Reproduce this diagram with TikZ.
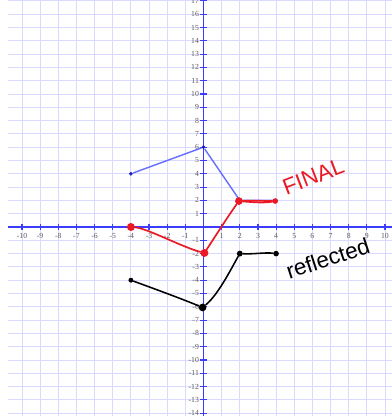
\documentclass[tikz,border=0pt]{standalone}
\usepackage{fontspec}
\setmainfont{Liberation Serif}
\newfontfamily\handfont{Liberation Sans}
\usepackage{tikz}
\definecolor{gridblue}{RGB}{218,218,255}
\definecolor{axisblue}{RGB}{60,60,255}
\definecolor{origblue}{RGB}{100,110,255}
\definecolor{dotblue}{RGB}{30,30,190}
\definecolor{penred}{RGB}{235,25,35}
\newcommand{\ticklabelfont}{\linespread{1}\fontsize{5.5}{6}\selectfont}
\newcommand{\handbigfont}{\handfont\fontsize{16}{18}\selectfont}
\tikzset{
    graph/plane/.style={x=0.45375cm, y=0.3325cm},
    graph/grid/.style={draw=gridblue, line width=0.6pt},
    graph/axis/.style={draw=axisblue, line width=1.3pt},
    graph/tick/.style={draw=axisblue, line width=0.8pt},
    graph/ticklabel/.style={font=\ticklabelfont, text=black!65, inner sep=0.5pt},
    graph/dot/.style={circle, inner sep=0pt, minimum size=#1},
    graph/original/.style={draw=origblue, line width=1pt},
    graph/final/.style={draw=penred, line width=1.2pt, line cap=round, line join=round},
    graph/reflected/.style={draw=black, line width=1.1pt, line cap=round, line join=round},
    graph/note/.style={font=\handbigfont, inner sep=0pt}
}
\begin{document}
\begin{tikzpicture}[graph/plane]
    \useasboundingbox (-11.212,-14.211) rectangle (10.386,17.068);
    % grid
    \foreach \gx in {-10,...,10}
        \draw[graph/grid] (\gx,-14.3) -- (\gx,17.1);
    \foreach \gy in {-14,...,17}
        \draw[graph/grid] (-10.75,\gy) -- (10.4,\gy);
    % axes
    \draw[graph/axis] (-10.75,0) -- (10.4,0);
    \draw[graph/axis] (0,-14.3) -- (0,17.1);
    \foreach \gx in {-10,...,-1,1,2,...,10} {
        \draw[graph/tick] (\gx,0) ++(0,-2.2pt) -- ++(0,4.4pt);
        \node[graph/ticklabel] (xlabel\gx) at (\gx,-0.68) {\gx};
    }
    \foreach \gy in {-14,...,-1,1,2,...,17} {
        \draw[graph/tick] (0,\gy) ++(-2.2pt,0) -- ++(4.4pt,0);
        \node[graph/ticklabel, anchor=east] (ylabel\gy) at (-0.2,\gy) {\gy};
    }
    % original figure
    \node[graph/dot=2.8pt, fill=dotblue] (b1) at (-4,4) {};
    \node[graph/dot=2.8pt, fill=dotblue] (b2) at (0,6) {};
    \node[graph/dot=2.8pt, fill=dotblue] (b3) at (2,2) {};
    \node[graph/dot=2.8pt, fill=dotblue] (b4) at (4,2) {};
    \draw[graph/original] (b1) -- (b2) -- (b3) -- (b4);
    % reflected figure
    \node[graph/dot=3.5pt, fill=black] (k1) at (-4,-4) {};
    \node[graph/dot=5.5pt, fill=black] (k2) at (-0.05,-6.05) {};
    \node[graph/dot=4.2pt, fill=black] (k3) at (2,-2) {};
    \node[graph/dot=4pt, fill=black] (k4) at (4,-2) {};
    \draw[graph/reflected] (k1) .. controls (-2.6,-4.7) and (-1.2,-5.4) .. (k2);
    \draw[graph/reflected] (k2) .. controls (0.8,-5.1) and (1.5,-3.2) .. (k3);
    \draw[graph/reflected] (k3) .. controls (2.8,-2.05) and (3.4,-1.9) .. (k4);
    % final figure
    \node[graph/dot=5.7pt, fill=penred] (r1) at (-4,0) {};
    \node[graph/dot=5.7pt, fill=penred] (r2) at (0.05,-1.95) {};
    \node[graph/dot=5.5pt, fill=penred] (r3) at (1.95,1.95) {};
    \node[graph/dot=4pt, fill=penred] (r4) at (3.95,1.95) {};
    \draw[graph/final] (r1) .. controls (-3.1,-0.1) and (-1.2,-1.5) .. (r2);
    \draw[graph/final] (r2) .. controls (0.7,-0.6) and (1.3,0.7) .. (r3);
    \draw[graph/final] (r3) .. controls (2.8,1.85) and (3.4,1.8) .. (r4);
    \draw[graph/final] (r3) .. controls (2.8,2.0) and (3.4,1.95) .. (r4);
    % handwritten notes
    \node[graph/note, text=penred, rotate=21] (finalnote) at (6.05,3.8) {FINAL};
    \node[graph/note, text=black, rotate=18] (reflectednote) at (6.85,-2.35) {reflected};
\end{tikzpicture}
\end{document}
